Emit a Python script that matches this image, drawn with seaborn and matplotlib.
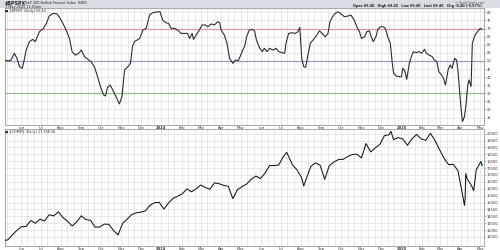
import matplotlib
matplotlib.use("Agg")
import matplotlib.pyplot as plt
import matplotlib.dates as mdates
from matplotlib.patches import Rectangle
import seaborn as sns
import pandas as pd

# ---------------- data: $BPSPX (S&P 500 Bullish Percent Index) ----------------
bpi_dates_2023 = ["2023-05-07","2023-05-12","2023-05-17","2023-05-22","2023-05-26","2023-05-30",
                  "2023-06-03","2023-06-06","2023-06-09","2023-06-14","2023-06-19","2023-06-23","2023-06-29",
                  "2023-07-04","2023-07-10","2023-07-14","2023-07-20","2023-07-26","2023-07-30",
                  "2023-08-04","2023-08-09","2023-08-14","2023-08-18","2023-08-23","2023-08-28",
                  "2023-09-01","2023-09-06","2023-09-11","2023-09-16","2023-09-21","2023-09-25","2023-09-28",
                  "2023-10-01","2023-10-05","2023-10-08","2023-10-11","2023-10-15","2023-10-19","2023-10-24","2023-10-29",
                  "2023-11-02","2023-11-06","2023-11-11","2023-11-15","2023-11-18","2023-11-21","2023-11-29",
                  "2023-12-04","2023-12-09","2023-12-14","2023-12-19","2023-12-27","2023-12-30"]
bpi_values_2023 = [50.6,50.0,50.5,54.7,51.6,46.4,
                   45.4,50.5,56.7,61.9,63.3,61.9,68.0,
                   69.5,73.2,77.7,79.4,79.0,76.9,
                   73.2,69.0,63.9,55.7,53.6,54.7,
                   56.7,52.6,51.0,49.5,46.4,41.3,37.2,
                   33.1,29.0,28.3,33.7,35.1,32.0,27.9,23.4,
                   27.9,44.4,46.4,48.5,58.8,61.9,63.9,
                   69.1,70.1,78.3,79.8,80.4,80.4]

bpi_dates_2024 = ["2024-01-03","2024-01-08","2024-01-12","2024-01-16","2024-01-21","2024-01-26","2024-01-31",
                  "2024-02-05","2024-02-10","2024-02-13","2024-02-17","2024-02-19","2024-02-23","2024-02-28",
                  "2024-03-03","2024-03-08","2024-03-12","2024-03-17","2024-03-22","2024-03-27","2024-03-30",
                  "2024-04-01","2024-04-06","2024-04-10","2024-04-14","2024-04-19","2024-04-23","2024-04-27","2024-04-30",
                  "2024-05-04","2024-05-07","2024-05-10","2024-05-14","2024-05-18","2024-05-22","2024-05-25","2024-05-30",
                  "2024-06-03","2024-06-06","2024-06-10","2024-06-14","2024-06-19","2024-06-24","2024-06-28",
                  "2024-07-03","2024-07-07","2024-07-09","2024-07-13","2024-07-18","2024-07-23","2024-07-27","2024-07-30","2024-07-31",
                  "2024-08-02","2024-08-05","2024-08-08","2024-08-11","2024-08-15","2024-08-20","2024-08-25","2024-08-29",
                  "2024-09-02","2024-09-07","2024-09-11","2024-09-14","2024-09-18","2024-09-22","2024-09-26",
                  "2024-10-01","2024-10-06","2024-10-11","2024-10-16","2024-10-21","2024-10-26","2024-10-29",
                  "2024-11-01","2024-11-06","2024-11-09","2024-11-13","2024-11-16","2024-11-19","2024-11-23","2024-11-26","2024-11-30",
                  "2024-12-05","2024-12-08","2024-12-11","2024-12-15","2024-12-18","2024-12-20","2024-12-24","2024-12-28"]
bpi_values_2024 = [75.2,73.6,73.2,70.1,70.1,69.1,67.0,
                   67.0,67.0,63.9,67.0,63.3,66.0,69.1,
                   72.2,72.2,71.1,72.8,72.2,74.2,73.6,
                   69.1,66.0,60.9,51.6,48.5,50.5,50.1,52.6,
                   56.7,59.0,64.9,69.1,69.5,68.6,62.9,57.8,
                   55.7,57.8,55.7,57.8,56.7,57.8,55.7,
                   55.1,54.7,60.9,67.0,67.4,67.0,68.0,70.7,64.9,
                   51.6,46.4,46.0,52.6,60.9,63.3,66.0,68.6,
                   67.0,64.9,67.0,74.2,77.3,79.4,80.4,
                   79.0,77.3,77.7,78.3,75.2,70.1,68.0,
                   63.9,64.9,68.0,68.6,64.9,61.9,64.9,69.5,71.1,
                   71.1,69.5,64.9,60.9,48.5,42.3,40.7,40.3]

bpi_dates_2025 = ["2025-01-01","2025-01-03","2025-01-06","2025-01-09","2025-01-13","2025-01-16","2025-01-19","2025-01-23","2025-01-28",
                  "2025-02-01","2025-02-05","2025-02-08","2025-02-12","2025-02-17","2025-02-20","2025-02-24","2025-02-27",
                  "2025-03-03","2025-03-06","2025-03-09","2025-03-13","2025-03-16","2025-03-19","2025-03-23","2025-03-26","2025-03-28","2025-03-30",
                  "2025-04-02","2025-04-04","2025-04-07","2025-04-09","2025-04-12","2025-04-14","2025-04-17","2025-04-19","2025-04-23","2025-04-27",
                  "2025-05-01","2025-05-04"]
bpi_values_2025 = [40.3,45.4,44.0,38.6,48.5,52.6,55.7,55.1,55.7,
                   54.7,57.2,54.7,53.6,52.6,50.5,49.5,43.3,
                   41.3,39.3,35.1,44.4,47.5,45.4,51.6,50.5,44.4,34.1,
                   19.7,12.5,15.6,21.7,35.1,38.2,34.1,60.9,66.0,68.0,
                   70.1,69.4]

bpi_ticks = [15, 20, 25, 30, 35, 40, 45, 50, 55, 60, 65, 70, 75, 80]
bpi_ref_levels = [70, 50, 30]
bpi_ref_colors = ["#d89c9c", "#9c9cbc", "#8cbf8c"]

# ---------------- data: $COMPQ (Nasdaq Composite) ----------------
comp_dates_2023 = ["2023-05-07","2023-05-12","2023-05-19","2023-05-26","2023-06-02","2023-06-09","2023-06-16",
                   "2023-06-23","2023-06-30","2023-07-07","2023-07-14","2023-07-21","2023-07-28","2023-08-04",
                   "2023-08-11","2023-08-18","2023-08-25","2023-09-01","2023-09-08","2023-09-15","2023-09-22",
                   "2023-09-29","2023-10-06","2023-10-13","2023-10-20","2023-10-27","2023-11-03","2023-11-10",
                   "2023-11-17","2023-11-24","2023-12-01","2023-12-08","2023-12-15","2023-12-22","2023-12-29"]
comp_values_2023 = [12240,12280,12650,12980,13240,13260,13690,
                    13490,13790,13660,14110,14030,14320,13910,
                    13640,13290,13590,14030,13760,13710,13210,
                    13220,13430,13410,12980,12640,13480,13800,
                    14130,14250,14300,14400,14810,14990,15010]

comp_dates_2024 = ["2024-01-05","2024-01-12","2024-01-19","2024-01-26","2024-02-02","2024-02-09","2024-02-16",
                   "2024-02-23","2024-03-01","2024-03-08","2024-03-15","2024-03-22","2024-03-28","2024-04-05",
                   "2024-04-12","2024-04-19","2024-04-26","2024-05-03","2024-05-10","2024-05-17","2024-05-24",
                   "2024-05-31","2024-06-07","2024-06-14","2024-06-21","2024-06-28","2024-07-05","2024-07-10",
                   "2024-07-19","2024-07-26","2024-08-02","2024-08-05","2024-08-09","2024-08-16","2024-08-23",
                   "2024-08-30","2024-09-06","2024-09-13","2024-09-20","2024-09-27","2024-10-04","2024-10-11",
                   "2024-10-18","2024-10-25","2024-11-01","2024-11-08","2024-11-15","2024-11-22","2024-11-29",
                   "2024-12-06","2024-12-13","2024-12-16","2024-12-20","2024-12-27"]
comp_values_2024 = [14520,14970,15310,15460,15630,15990,15780,
                    15990,16270,16090,15970,16430,16380,16250,
                    16180,15280,15930,16160,16340,16690,16920,
                    16740,17130,17690,17690,17730,18350,18650,
                    17730,17360,16780,16200,16750,17630,17880,
                    17710,16690,17680,17950,18120,18140,18340,
                    18490,18520,18240,19290,18680,18970,19220,
                    19860,19930,20170,19570,19720]

comp_dates_2025 = ["2025-01-03","2025-01-10","2025-01-17","2025-01-24","2025-01-31","2025-02-07","2025-02-14",
                   "2025-02-21","2025-02-28","2025-03-07","2025-03-14","2025-03-21","2025-03-28","2025-04-04",
                   "2025-04-07","2025-04-08","2025-04-09","2025-04-11","2025-04-17","2025-04-21","2025-04-25",
                   "2025-05-02","2025-05-04"]
comp_values_2025 = [19620,19160,19630,19950,19630,19520,20030,
                    19520,18850,18200,17750,17780,17320,15590,
                    14780,15270,17120,16720,16290,15870,17380,
                    17980,17700]

comp_ticks = [12500, 13000, 13500, 14000, 14500, 15000, 15500, 16000,
              16500, 17000, 17500, 18000, 18500, 19000, 19500, 20000]

month_labels = ["Jun", "Jul", "Aug", "Sep", "Oct", "Nov", "Dec", "2024", "Feb", "Mar", "Apr", "May",
                "Jun", "Jul", "Aug", "Sep", "Oct", "Nov", "Dec", "2025", "Feb", "Mar", "Apr", "May"]
month_starts = pd.date_range("2023-06-01", periods=len(month_labels), freq="MS")

bpi = pd.DataFrame({"date": pd.to_datetime(bpi_dates_2023 + bpi_dates_2024 + bpi_dates_2025),
                    "value": bpi_values_2023 + bpi_values_2024 + bpi_values_2025})
comp = pd.DataFrame({"date": pd.to_datetime(comp_dates_2023 + comp_dates_2024 + comp_dates_2025),
                     "value": comp_values_2023 + comp_values_2024 + comp_values_2025})

# ---------------- figure ----------------
sns.set_theme(style="white")
plt.rcParams["font.family"] = ["DejaVu Sans"]

W, H = 500, 250
fig = plt.figure(figsize=(5, 2.5), dpi=100)
fig.patch.set_facecolor("white")
fig.patches.append(Rectangle((0, 1 - 8 / H), 1, 8 / H, transform=fig.transFigure,
                             facecolor="#d8dce3", edgecolor="none", zorder=0))

def fax(left, top, right, bottom):
    return fig.add_axes([left / W, 1 - bottom / H, (right - left) / W, (bottom - top) / H])

ax1 = fax(4.5, 8, 483.5, 124.5)
ax2 = fax(4.5, 129, 483.5, 245.5)

xlim = (pd.Timestamp("2023-05-07"), pd.Timestamp("2025-05-06"))
grid_c = "#e0e0e0"
label_c = "#333333"

for ax in (ax1, ax2):
    ax.set_facecolor("white")
    ax.set_xlim(*xlim)
    ax.set_xticks(month_starts)
    ax.set_xticklabels(month_labels)
    ax.xaxis.set_minor_locator(mdates.DayLocator(bymonthday=[1, 11, 21]))
    ax.grid(True, which="both", axis="x", color=grid_c, lw=0.5)
    ax.grid(True, which="major", axis="y", color=grid_c, lw=0.5)
    ax.yaxis.tick_right()
    ax.tick_params(axis="x", which="both", length=0, pad=0.8, labelsize=2.7, labelcolor=label_c)
    ax.tick_params(axis="y", which="both", length=1.2, width=0.4, pad=1.2, labelsize=2.6,
                   labelcolor=label_c, color="#888888")
    for s in ax.spines.values():
        s.set_color("#9a9a9a")
        s.set_linewidth(0.6)
    for t in ax.get_xticklabels():
        if t.get_text() in ("2024", "2025"):
            t.set_fontweight("bold")

# top panel
ax1.set_ylim(10.7, 82.7)
ax1.set_yticks(bpi_ticks)
for lvl, col in zip(bpi_ref_levels, bpi_ref_colors):
    ax1.axhline(lvl, color=col, lw=0.9, zorder=1.5)
sns.lineplot(data=bpi, x="date", y="value", ax=ax1, color="#2e2e2e", lw=0.8, zorder=3)
ax1.set_xlabel("")
ax1.set_ylabel("")

# bottom panel
ax2.set_ylim(11873, 20345)
ax2.set_yticks(comp_ticks)
ax2.set_yticklabels([str(v) for v in comp_ticks])
sns.lineplot(data=comp, x="date", y="value", ax=ax2, color="#151515", lw=0.75, zorder=3)
sns.scatterplot(data=comp.tail(1), x="date", y="value", ax=ax2, color="#2a9a2a",
                s=4, marker="s", linewidth=0, zorder=4)
ax2.set_xlabel("")
ax2.set_ylabel("")

# header / legend texts
def ftext(x, y, s, **kw):
    kw.setdefault("va", "center")
    kw.setdefault("color", "#222222")
    fig.text(x / W, 1 - y / H, s, **kw)

ftext(5, 3, "\\$BPSPX", fontsize=3.4, fontweight="bold")
ftext(25, 3, "S&P 500 Bullish Percent Index  INDX", fontsize=2.4)
ftext(5, 6.6, "7-May-2025 11:03am", fontsize=2.4)
ftext(484, 2.6, "© StockCharts.com", fontsize=2.2, ha="right", color="#555555")
ftext(482, 6.2, "Open 69.40   High 69.40   Low 69.40   Last 69.40   Chg -0.40 (-0.57%)",
      fontsize=2.4, ha="right", fontweight="bold")
ftext(5, 10.8, "■ \\$BPSPX (Daily) 69.40", fontsize=2.4)
ftext(5, 131.5, "■ \\$COMPQ (Daily) 17,738.16", fontsize=2.4)

fig.savefig("out.png", dpi=100, facecolor=fig.get_facecolor())
